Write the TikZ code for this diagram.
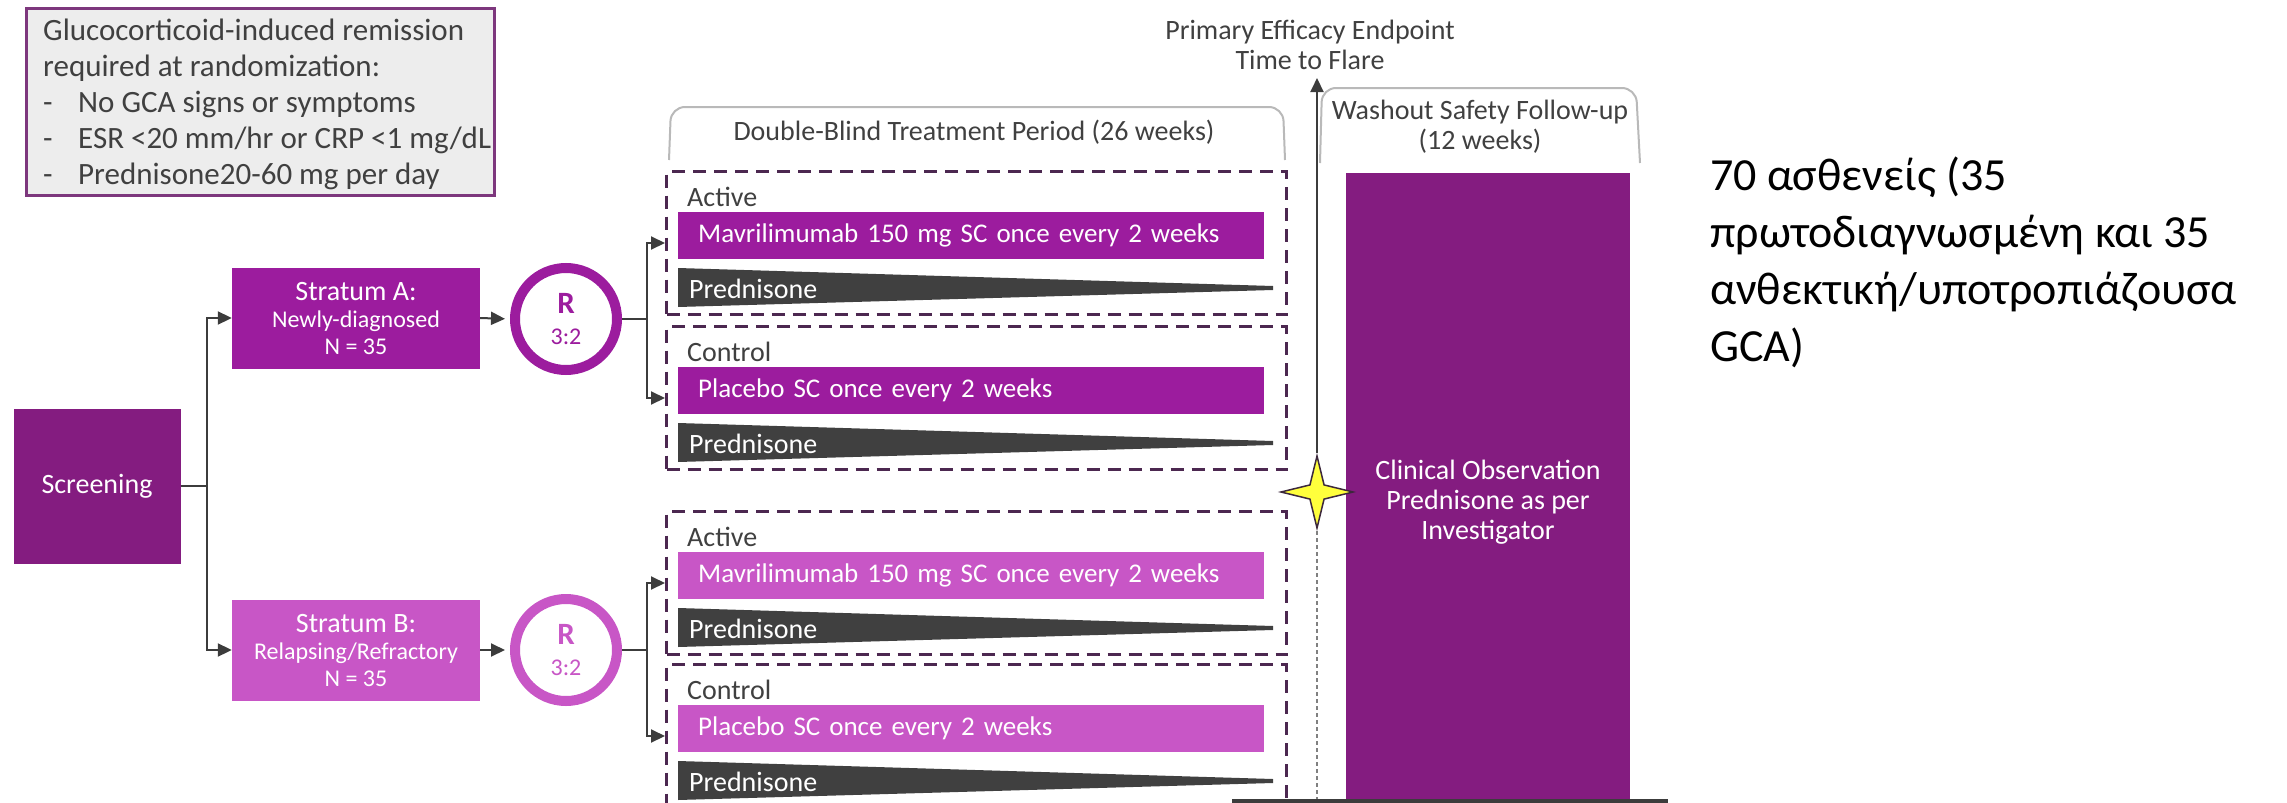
\documentclass[tikz,border=0pt]{standalone}
\usepackage{fontspec}
\setmainfont{Carlito}
\usetikzlibrary{arrows.meta}
\usetikzlibrary{shapes.geometric}
\usetikzlibrary{calc}
\definecolor{plumdark}{RGB}{132,28,128}
\definecolor{plummid}{RGB}{156,28,158}
\definecolor{plumlight}{RGB}{200,86,198}
\definecolor{wedgegray}{RGB}{64,64,64}
\definecolor{dashplum}{RGB}{76,40,80}
\definecolor{textgray}{RGB}{64,64,64}
\definecolor{linkgray}{RGB}{60,60,60}
\definecolor{critfill}{RGB}{237,237,237}
\definecolor{critline}{RGB}{125,55,125}
\definecolor{starfill}{RGB}{255,255,60}
\definecolor{stardark}{RGB}{60,40,60}

\begin{document}
\begin{tikzpicture}[x=1pt,y=-1pt,
        every node/.style={inner sep=0pt},
        lbl/.style={font=\fontsize{28}{30}\selectfont, text=textgray, align=center},
        darkbox/.style={fill=plumdark, text=white, font=\fontsize{28}{30}\selectfont, align=center},
        stratbox/.style={minimum width=248pt, minimum height=101pt, text=white, align=center, font=\fontsize{24}{27}\selectfont},
        rnode/.style={circle, line width=10pt, minimum size=102pt, fill=white, align=center, font=\fontsize{24}{31}\selectfont},
        armbox/.style={draw=dashplum, line width=3pt, dash pattern=on 13pt off 8pt, minimum width=620pt, minimum height=143pt, anchor=north west},
        bar/.style={anchor=north west, minimum height=47pt, text width=546pt, inner xsep=20pt, align=left, text=white, font=\fontsize{27}{30}\selectfont},
        wedge/.style={fill=wedgegray},
        link/.style={draw=linkgray, line width=2pt},
        arr/.style={link, -{Triangle[length=14pt,width=13pt]}},
        bracket/.style={draw=gray!55, line width=2pt, rounded corners=14pt},
        dotline/.style={draw=gray, line width=2pt, dash pattern=on 4pt off 3pt},
        critbox/.style={anchor=north west, fill=critfill, draw=critline, line width=2.5pt, minimum width=468pt, minimum height=187pt},
        crittext/.style={anchor=north west, align=left, font=\fontsize{31}{36}\selectfont, text=textgray},
    ]
    \useasboundingbox (0,0) rectangle (2287,803);

    \node[critbox] (crit) at (25,7) {};
    \node[crittext] (crittxt) at (43,19) {Glucocorticoid-induced remission\\required at randomization:\\\makebox[35pt][l]{-}No GCA signs or symptoms\\\makebox[35pt][l]{-}ESR <20 mm/hr or CRP <1 mg/dL\\\makebox[35pt][l]{-}Prednisone20-60 mg per day};

    \node[darkbox, minimum width=167pt, minimum height=155pt] (scr) at (97,486) {Screening};
    \node[stratbox, fill=plummid] (sA) at (356,318) {{\fontsize{28}{27}\selectfont Stratum A:}\\Newly-diagnosed\\N = 35};
    \node[stratbox, fill=plumlight] (sB) at (356,650) {{\fontsize{28}{27}\selectfont Stratum B:}\\Relapsing/Refractory\\N = 35};
    \node[rnode, draw=plummid, text=plummid] (rA) at (566,319) {{\bfseries\fontsize{31}{31}\selectfont R}\\3:2};
    \node[rnode, draw=plumlight, text=plumlight] (rB) at (566,650) {{\bfseries\fontsize{31}{31}\selectfont R}\\3:2};

    \coordinate (fork) at (207,486);
    \draw[link] (scr.east) -- (fork);
    \draw[arr] (fork) |- (sA.west);
    \draw[arr] (fork) |- (sB.west);
    \draw[arr, shorten >=5pt] (sA.east) -- (rA.west);
    \draw[arr, shorten >=5pt] (sB.east) -- (rB.west);

    \draw[bracket] (669,160) -- (671,107) -- (1283,107) -- (1285,160);
    \node[lbl] (dblab) at (974,132) {Double-Blind Treatment Period (26 weeks)};

    \foreach \n/\t/\lab/\drug/\col in {aa/170/Active/Mavrilimumab 150 mg SC once every 2 weeks/plummid,
        ac/325/Control/Placebo SC once every 2 weeks/plummid,
        ba/510/Active/Mavrilimumab 150 mg SC once every 2 weeks/plumlight,
        bc/663/Control/Placebo SC once every 2 weeks/plumlight}
    {
        \node[armbox] (\n) at (665,\t) {};
        \node[lbl, anchor=west] (\n lab) at (687,\t+27) {\lab};
        \node[bar, fill=\col] (\n bar) at (678,\t+42) {\drug};
        \fill[wedge] (678,\t+98) -- (1273,\t+116) -- (1273,\t+120) -- (678,\t+137) -- cycle;
        \node[lbl, text=white, anchor=west] (\n pred) at (689,\t+119) {Prednisone};
    }

    \coordinate (splitA) at ($(rA.east)+(25,0)$);
    \coordinate (splitB) at ($(rB.east)+(25,0)$);
    \draw[link] (rA.east) -- (splitA);
    \draw[link] (rB.east) -- (splitB);
    \draw[arr] (splitA) |- (aa.west);
    \draw[arr] (splitA) |- (ac.west);
    \draw[arr] (splitB) |- (ba.west);
    \draw[arr] (splitB) |- (bc.west);

    \node[darkbox, anchor=north west, minimum width=284pt, minimum height=640pt] (wash) at (1346,173) {};
    \node[font=\fontsize{28}{30}\selectfont, text=white, align=center] (obs) at (1488,502) {Clinical Observation\\Prednisone as per\\Investigator};
    \draw[bracket] (1320,163) -- (1322,88) -- (1636,88) -- (1640,163);
    \node[lbl] (washlab) at (1480,127) {Washout Safety Follow-up\\(12 weeks)};
    \node[lbl] (endpt) at (1310,45) {Primary Efficacy Endpoint\\Time to Flare};

    \node[star, star points=4, star point ratio=3.6, minimum size=72pt, fill=starfill, draw=stardark, line width=1.5pt] (flare) at (1317,492) {};
    \coordinate (flaretop) at (1317,78);
    \coordinate (flarebot) at (1317,803);
    \draw[arr] (flare.north) -- (flaretop);
    \draw[dotline] (flare.south) -- (flarebot);
    \draw[line width=4pt, draw=linkgray] (1232,801) -- (1668,801);

    \node[font=\fontsize{46}{57}\selectfont, align=left, anchor=west] (note) at (1710,262) {70 ασθενείς (35\\πρωτοδιαγνωσμένη και 35\\ανθεκτική/υποτροπιάζουσα\\GCA)};
\end{tikzpicture}
\end{document}
